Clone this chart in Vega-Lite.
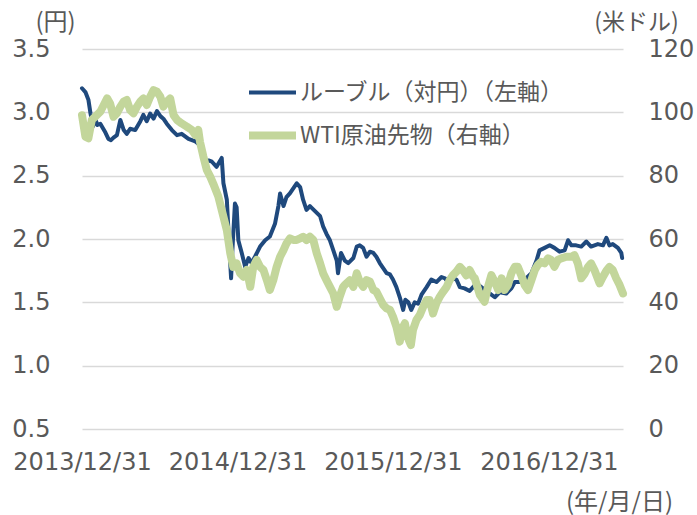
{
  "$schema": "https://vega.github.io/schema/vega-lite/v6.json",
  "width": 541,
  "height": 380,
  "autosize": {"type": "none"},
  "padding": {"left": 82, "top": 49, "right": 74, "bottom": 86},
  "background": "white",
  "config": {
    "view": {"stroke": null},
    "font": "DejaVu Sans",
    "legend": {
      "orient": "none",
      "legendX": 163,
      "legendY": 18,
      "labelFont": "Noto Sans CJK JP",
      "labelFontSize": 23,
      "labelColor": "#595959",
      "labelLimit": 0,
      "symbolType": "stroke",
      "symbolSize": 2209,
      "labelOffset": 0,
      "rowPadding": 3,
      "padding": 0
    },
    "axisX": {
      "grid": false, "domain": false, "ticks": false, "tickSize": 0,
      "labelPadding": 21, "labelFontSize": 24, "labelColor": "#595959", "labelFont": "DejaVu Sans",
      "labelOverlap": false, "labelFlush": false, "labelBound": false,
      "titleFont": "Noto Sans CJK JP", "titleFontSize": 24, "titleFontWeight": "normal",
      "titleColor": "#595959", "titleX": 537, "titleY": 73, "titleAlign": "center", "titleBaseline": "middle"
    }
  },
  "datasets": {
    "ruble": [
      {"date": "2013-12-31", "rub_jpy": 3.19},
      {"date": "2014-01-08", "rub_jpy": 3.16},
      {"date": "2014-01-15", "rub_jpy": 3.10},
      {"date": "2014-01-20", "rub_jpy": 2.99},
      {"date": "2014-01-26", "rub_jpy": 2.89},
      {"date": "2014-01-31", "rub_jpy": 2.95},
      {"date": "2014-02-05", "rub_jpy": 2.90},
      {"date": "2014-02-12", "rub_jpy": 2.91},
      {"date": "2014-02-24", "rub_jpy": 2.84},
      {"date": "2014-03-03", "rub_jpy": 2.79},
      {"date": "2014-03-09", "rub_jpy": 2.78},
      {"date": "2014-03-15", "rub_jpy": 2.80},
      {"date": "2014-03-23", "rub_jpy": 2.82},
      {"date": "2014-03-31", "rub_jpy": 2.94},
      {"date": "2014-04-08", "rub_jpy": 2.86},
      {"date": "2014-04-15", "rub_jpy": 2.83},
      {"date": "2014-04-23", "rub_jpy": 2.87},
      {"date": "2014-05-05", "rub_jpy": 2.86},
      {"date": "2014-05-17", "rub_jpy": 2.93},
      {"date": "2014-05-24", "rub_jpy": 2.98},
      {"date": "2014-06-01", "rub_jpy": 2.93},
      {"date": "2014-06-09", "rub_jpy": 2.99},
      {"date": "2014-06-17", "rub_jpy": 2.95},
      {"date": "2014-06-25", "rub_jpy": 3.01},
      {"date": "2014-07-03", "rub_jpy": 2.97},
      {"date": "2014-07-10", "rub_jpy": 2.95},
      {"date": "2014-07-18", "rub_jpy": 2.91},
      {"date": "2014-07-30", "rub_jpy": 2.86},
      {"date": "2014-08-11", "rub_jpy": 2.82},
      {"date": "2014-08-22", "rub_jpy": 2.83},
      {"date": "2014-09-07", "rub_jpy": 2.79},
      {"date": "2014-09-23", "rub_jpy": 2.77},
      {"date": "2014-10-08", "rub_jpy": 2.73},
      {"date": "2014-10-16", "rub_jpy": 2.62},
      {"date": "2014-10-24", "rub_jpy": 2.62},
      {"date": "2014-11-01", "rub_jpy": 2.61},
      {"date": "2014-11-12", "rub_jpy": 2.57},
      {"date": "2014-11-24", "rub_jpy": 2.64},
      {"date": "2014-11-28", "rub_jpy": 2.44},
      {"date": "2014-12-06", "rub_jpy": 2.31},
      {"date": "2014-12-11", "rub_jpy": 1.99},
      {"date": "2014-12-16", "rub_jpy": 1.69},
      {"date": "2014-12-19", "rub_jpy": 1.91},
      {"date": "2014-12-25", "rub_jpy": 2.28},
      {"date": "2014-12-29", "rub_jpy": 2.25},
      {"date": "2015-01-02", "rub_jpy": 1.99},
      {"date": "2015-01-10", "rub_jpy": 1.89},
      {"date": "2015-01-18", "rub_jpy": 1.78},
      {"date": "2015-01-26", "rub_jpy": 1.85},
      {"date": "2015-02-02", "rub_jpy": 1.81},
      {"date": "2015-02-10", "rub_jpy": 1.86},
      {"date": "2015-02-22", "rub_jpy": 1.94},
      {"date": "2015-03-06", "rub_jpy": 1.99},
      {"date": "2015-03-17", "rub_jpy": 2.02},
      {"date": "2015-03-29", "rub_jpy": 2.12},
      {"date": "2015-04-06", "rub_jpy": 2.26},
      {"date": "2015-04-10", "rub_jpy": 2.36},
      {"date": "2015-04-18", "rub_jpy": 2.26},
      {"date": "2015-04-25", "rub_jpy": 2.33},
      {"date": "2015-05-03", "rub_jpy": 2.36},
      {"date": "2015-05-11", "rub_jpy": 2.40},
      {"date": "2015-05-19", "rub_jpy": 2.44},
      {"date": "2015-05-27", "rub_jpy": 2.41},
      {"date": "2015-06-03", "rub_jpy": 2.31},
      {"date": "2015-06-11", "rub_jpy": 2.23},
      {"date": "2015-06-19", "rub_jpy": 2.26},
      {"date": "2015-07-01", "rub_jpy": 2.22},
      {"date": "2015-07-13", "rub_jpy": 2.18},
      {"date": "2015-07-20", "rub_jpy": 2.10},
      {"date": "2015-07-28", "rub_jpy": 2.04},
      {"date": "2015-08-05", "rub_jpy": 1.99},
      {"date": "2015-08-13", "rub_jpy": 1.91},
      {"date": "2015-08-21", "rub_jpy": 1.83},
      {"date": "2015-08-24", "rub_jpy": 1.73},
      {"date": "2015-08-31", "rub_jpy": 1.89},
      {"date": "2015-09-09", "rub_jpy": 1.83},
      {"date": "2015-09-17", "rub_jpy": 1.81},
      {"date": "2015-09-29", "rub_jpy": 1.85},
      {"date": "2015-10-07", "rub_jpy": 1.94},
      {"date": "2015-10-14", "rub_jpy": 1.95},
      {"date": "2015-10-22", "rub_jpy": 1.93},
      {"date": "2015-10-30", "rub_jpy": 1.86},
      {"date": "2015-11-07", "rub_jpy": 1.90},
      {"date": "2015-11-15", "rub_jpy": 1.89},
      {"date": "2015-11-22", "rub_jpy": 1.86},
      {"date": "2015-11-30", "rub_jpy": 1.81},
      {"date": "2015-12-08", "rub_jpy": 1.77},
      {"date": "2015-12-16", "rub_jpy": 1.73},
      {"date": "2015-12-24", "rub_jpy": 1.72},
      {"date": "2015-12-31", "rub_jpy": 1.68},
      {"date": "2016-01-08", "rub_jpy": 1.62},
      {"date": "2016-01-16", "rub_jpy": 1.54},
      {"date": "2016-01-24", "rub_jpy": 1.44},
      {"date": "2016-01-29", "rub_jpy": 1.52},
      {"date": "2016-02-05", "rub_jpy": 1.50},
      {"date": "2016-02-12", "rub_jpy": 1.44},
      {"date": "2016-02-20", "rub_jpy": 1.50},
      {"date": "2016-02-28", "rub_jpy": 1.49},
      {"date": "2016-03-07", "rub_jpy": 1.56},
      {"date": "2016-03-19", "rub_jpy": 1.62},
      {"date": "2016-03-30", "rub_jpy": 1.68},
      {"date": "2016-04-11", "rub_jpy": 1.66},
      {"date": "2016-04-23", "rub_jpy": 1.70},
      {"date": "2016-05-01", "rub_jpy": 1.69},
      {"date": "2016-05-08", "rub_jpy": 1.66},
      {"date": "2016-05-20", "rub_jpy": 1.69},
      {"date": "2016-05-28", "rub_jpy": 1.68},
      {"date": "2016-06-05", "rub_jpy": 1.62},
      {"date": "2016-06-16", "rub_jpy": 1.61},
      {"date": "2016-06-28", "rub_jpy": 1.59},
      {"date": "2016-07-14", "rub_jpy": 1.65},
      {"date": "2016-07-29", "rub_jpy": 1.61},
      {"date": "2016-08-14", "rub_jpy": 1.57},
      {"date": "2016-08-26", "rub_jpy": 1.54},
      {"date": "2016-09-07", "rub_jpy": 1.58},
      {"date": "2016-09-22", "rub_jpy": 1.57},
      {"date": "2016-10-04", "rub_jpy": 1.61},
      {"date": "2016-10-12", "rub_jpy": 1.66},
      {"date": "2016-10-23", "rub_jpy": 1.66},
      {"date": "2016-11-08", "rub_jpy": 1.69},
      {"date": "2016-11-20", "rub_jpy": 1.73},
      {"date": "2016-12-02", "rub_jpy": 1.83},
      {"date": "2016-12-09", "rub_jpy": 1.91},
      {"date": "2016-12-21", "rub_jpy": 1.93},
      {"date": "2017-01-02", "rub_jpy": 1.95},
      {"date": "2017-01-13", "rub_jpy": 1.93},
      {"date": "2017-01-25", "rub_jpy": 1.90},
      {"date": "2017-02-06", "rub_jpy": 1.91},
      {"date": "2017-02-14", "rub_jpy": 1.99},
      {"date": "2017-02-22", "rub_jpy": 1.95},
      {"date": "2017-03-05", "rub_jpy": 1.95},
      {"date": "2017-03-17", "rub_jpy": 1.94},
      {"date": "2017-03-29", "rub_jpy": 1.98},
      {"date": "2017-04-09", "rub_jpy": 1.94},
      {"date": "2017-04-25", "rub_jpy": 1.96},
      {"date": "2017-05-07", "rub_jpy": 1.95},
      {"date": "2017-05-15", "rub_jpy": 2.01},
      {"date": "2017-05-22", "rub_jpy": 1.95},
      {"date": "2017-05-30", "rub_jpy": 1.96},
      {"date": "2017-06-11", "rub_jpy": 1.93},
      {"date": "2017-06-19", "rub_jpy": 1.89},
      {"date": "2017-06-21", "rub_jpy": 1.85}
    ],
    "wti": [
      {"date": "2013-12-31", "wti": 99.1},
      {"date": "2014-01-08", "wti": 92.3},
      {"date": "2014-01-15", "wti": 91.8},
      {"date": "2014-01-23", "wti": 97.6},
      {"date": "2014-01-31", "wti": 98.6},
      {"date": "2014-02-12", "wti": 100.2},
      {"date": "2014-02-20", "wti": 102.3},
      {"date": "2014-02-28", "wti": 104.4},
      {"date": "2014-03-07", "wti": 102.8},
      {"date": "2014-03-15", "wti": 98.6},
      {"date": "2014-03-23", "wti": 99.7},
      {"date": "2014-03-31", "wti": 101.8},
      {"date": "2014-04-08", "wti": 103.4},
      {"date": "2014-04-15", "wti": 103.9},
      {"date": "2014-04-23", "wti": 100.7},
      {"date": "2014-05-01", "wti": 99.7},
      {"date": "2014-05-09", "wti": 101.8},
      {"date": "2014-05-17", "wti": 103.4},
      {"date": "2014-05-24", "wti": 104.4},
      {"date": "2014-06-01", "wti": 102.3},
      {"date": "2014-06-09", "wti": 104.9},
      {"date": "2014-06-17", "wti": 107.0},
      {"date": "2014-06-25", "wti": 106.5},
      {"date": "2014-07-03", "wti": 104.9},
      {"date": "2014-07-10", "wti": 101.8},
      {"date": "2014-07-18", "wti": 103.4},
      {"date": "2014-07-26", "wti": 104.4},
      {"date": "2014-08-03", "wti": 99.1},
      {"date": "2014-08-11", "wti": 97.6},
      {"date": "2014-08-22", "wti": 96.5},
      {"date": "2014-09-03", "wti": 95.5},
      {"date": "2014-09-15", "wti": 94.4},
      {"date": "2014-09-23", "wti": 92.8},
      {"date": "2014-09-30", "wti": 94.4},
      {"date": "2014-10-04", "wti": 90.7},
      {"date": "2014-10-12", "wti": 86.0},
      {"date": "2014-10-20", "wti": 81.8},
      {"date": "2014-10-28", "wti": 79.7},
      {"date": "2014-11-04", "wti": 77.5},
      {"date": "2014-11-16", "wti": 73.4},
      {"date": "2014-11-28", "wti": 67.0},
      {"date": "2014-12-06", "wti": 62.8},
      {"date": "2014-12-14", "wti": 55.5},
      {"date": "2014-12-21", "wti": 51.2},
      {"date": "2014-12-29", "wti": 52.3},
      {"date": "2015-01-06", "wti": 49.2},
      {"date": "2015-01-14", "wti": 48.1},
      {"date": "2015-01-22", "wti": 50.2},
      {"date": "2015-01-30", "wti": 44.9},
      {"date": "2015-02-06", "wti": 51.2},
      {"date": "2015-02-14", "wti": 53.4},
      {"date": "2015-02-22", "wti": 51.2},
      {"date": "2015-03-02", "wti": 50.2},
      {"date": "2015-03-10", "wti": 47.0},
      {"date": "2015-03-17", "wti": 43.9},
      {"date": "2015-03-25", "wti": 47.0},
      {"date": "2015-04-02", "wti": 51.2},
      {"date": "2015-04-10", "wti": 54.4},
      {"date": "2015-04-18", "wti": 56.5},
      {"date": "2015-04-25", "wti": 58.6},
      {"date": "2015-05-03", "wti": 60.2},
      {"date": "2015-05-11", "wti": 59.7},
      {"date": "2015-05-19", "wti": 59.7},
      {"date": "2015-05-27", "wti": 60.2},
      {"date": "2015-06-03", "wti": 60.7},
      {"date": "2015-06-11", "wti": 59.7},
      {"date": "2015-06-19", "wti": 60.7},
      {"date": "2015-06-27", "wti": 59.7},
      {"date": "2015-07-05", "wti": 55.5},
      {"date": "2015-07-13", "wti": 52.3},
      {"date": "2015-07-20", "wti": 49.2},
      {"date": "2015-07-28", "wti": 47.0},
      {"date": "2015-08-05", "wti": 44.9},
      {"date": "2015-08-13", "wti": 42.8},
      {"date": "2015-08-21", "wti": 38.6},
      {"date": "2015-08-28", "wti": 41.8},
      {"date": "2015-09-05", "wti": 44.9},
      {"date": "2015-09-09", "wti": 45.5},
      {"date": "2015-09-21", "wti": 47.0},
      {"date": "2015-09-29", "wti": 44.9},
      {"date": "2015-10-07", "wti": 49.2},
      {"date": "2015-10-14", "wti": 46.5},
      {"date": "2015-10-22", "wti": 44.9},
      {"date": "2015-10-30", "wti": 47.0},
      {"date": "2015-11-07", "wti": 46.5},
      {"date": "2015-11-15", "wti": 43.9},
      {"date": "2015-11-22", "wti": 43.4},
      {"date": "2015-11-30", "wti": 41.3},
      {"date": "2015-12-08", "wti": 39.2},
      {"date": "2015-12-16", "wti": 38.1},
      {"date": "2015-12-24", "wti": 37.6},
      {"date": "2015-12-31", "wti": 35.5},
      {"date": "2016-01-08", "wti": 32.3},
      {"date": "2016-01-16", "wti": 27.6},
      {"date": "2016-01-20", "wti": 31.3},
      {"date": "2016-01-28", "wti": 33.4},
      {"date": "2016-02-03", "wti": 29.1},
      {"date": "2016-02-11", "wti": 26.5},
      {"date": "2016-02-16", "wti": 31.3},
      {"date": "2016-02-24", "wti": 34.4},
      {"date": "2016-03-03", "wti": 36.0},
      {"date": "2016-03-11", "wti": 38.6},
      {"date": "2016-03-19", "wti": 40.7},
      {"date": "2016-03-26", "wti": 40.7},
      {"date": "2016-04-03", "wti": 36.5},
      {"date": "2016-04-11", "wti": 39.7},
      {"date": "2016-04-19", "wti": 41.8},
      {"date": "2016-04-27", "wti": 43.4},
      {"date": "2016-05-05", "wti": 44.9},
      {"date": "2016-05-12", "wti": 47.0},
      {"date": "2016-05-20", "wti": 48.6},
      {"date": "2016-05-28", "wti": 49.7},
      {"date": "2016-06-05", "wti": 51.2},
      {"date": "2016-06-12", "wti": 50.2},
      {"date": "2016-06-20", "wti": 48.5},
      {"date": "2016-06-28", "wti": 50.2},
      {"date": "2016-07-06", "wti": 48.1},
      {"date": "2016-07-10", "wti": 47.6},
      {"date": "2016-07-22", "wti": 42.3},
      {"date": "2016-08-02", "wti": 40.2},
      {"date": "2016-08-10", "wti": 44.9},
      {"date": "2016-08-18", "wti": 48.6},
      {"date": "2016-08-26", "wti": 46.5},
      {"date": "2016-09-03", "wti": 43.9},
      {"date": "2016-09-11", "wti": 47.6},
      {"date": "2016-09-18", "wti": 43.9},
      {"date": "2016-09-26", "wti": 45.5},
      {"date": "2016-10-04", "wti": 49.2},
      {"date": "2016-10-12", "wti": 51.2},
      {"date": "2016-10-19", "wti": 51.2},
      {"date": "2016-10-27", "wti": 48.6},
      {"date": "2016-11-04", "wti": 45.5},
      {"date": "2016-11-12", "wti": 43.9},
      {"date": "2016-11-20", "wti": 47.0},
      {"date": "2016-11-28", "wti": 50.2},
      {"date": "2016-12-05", "wti": 51.8},
      {"date": "2016-12-13", "wti": 52.8},
      {"date": "2016-12-21", "wti": 52.3},
      {"date": "2016-12-29", "wti": 53.9},
      {"date": "2017-01-05", "wti": 53.4},
      {"date": "2017-01-13", "wti": 51.2},
      {"date": "2017-01-21", "wti": 53.4},
      {"date": "2017-01-29", "wti": 53.9},
      {"date": "2017-02-10", "wti": 54.4},
      {"date": "2017-02-22", "wti": 54.4},
      {"date": "2017-03-01", "wti": 54.9},
      {"date": "2017-03-09", "wti": 52.3},
      {"date": "2017-03-17", "wti": 47.6},
      {"date": "2017-03-25", "wti": 49.0},
      {"date": "2017-04-02", "wti": 51.2},
      {"date": "2017-04-09", "wti": 52.3},
      {"date": "2017-04-17", "wti": 50.2},
      {"date": "2017-04-29", "wti": 46.0},
      {"date": "2017-05-07", "wti": 48.1},
      {"date": "2017-05-15", "wti": 50.0},
      {"date": "2017-05-22", "wti": 51.2},
      {"date": "2017-05-30", "wti": 50.2},
      {"date": "2017-06-07", "wti": 47.6},
      {"date": "2017-06-15", "wti": 45.5},
      {"date": "2017-06-23", "wti": 42.8}
    ]
  },
  "encoding": {
    "x": {
      "field": "date", "type": "temporal",
      "scale": {"type": "utc", "domain": [{"year": 2013, "month": 12, "date": 31, "utc": true}, {"year": 2017, "month": 6, "date": 23, "utc": true}]},
      "axis": {
        "values": [
          {"year": 2013, "month": 12, "date": 31, "utc": true},
          {"year": 2014, "month": 12, "date": 31, "utc": true},
          {"year": 2015, "month": 12, "date": 31, "utc": true},
          {"year": 2016, "month": 12, "date": 31, "utc": true}
        ],
        "format": "%Y/%m/%d",
        "title": "(年/月/日)"
      }
    }
  },
  "layer": [
    {
      "data": {"name": "ruble"},
      "mark": {"type": "line", "strokeJoin": "round", "strokeCap": "round"},
      "encoding": {
        "y": {
          "field": "rub_jpy", "type": "quantitative",
          "scale": {"domain": [0.5, 3.5], "nice": false, "zero": false},
          "axis": {
            "orient": "left",
            "values": [0.5, 1, 1.5, 2, 2.5, 3, 3.5], "format": ".1f",
            "grid": true, "gridColor": "#d9d9d9", "gridWidth": 1.5,
            "domain": false, "ticks": false, "tickSize": 0,
            "labelPadding": 32, "labelFontSize": 24, "labelColor": "#595959", "labelFont": "DejaVu Sans",
            "title": "(円)", "titleAngle": 0, "titleX": -27, "titleY": -27, "titleAlign": "center", "titleBaseline": "middle",
            "titleFont": "Noto Sans CJK JP", "titleFontSize": 24, "titleFontWeight": "normal", "titleColor": "#595959"
          }
        },
        "color": {
          "datum": "ルーブル（対円）（左軸）", "type": "nominal",
          "scale": {"domain": ["ルーブル（対円）（左軸）", "WTI原油先物（右軸）"], "range": ["#1f497d", "#c3d69b"]},
          "legend": {"title": null}
        },
        "strokeWidth": {
          "datum": "ルーブル（対円）（左軸）", "type": "nominal",
          "scale": {"domain": ["ルーブル（対円）（左軸）", "WTI原油先物（右軸）"], "range": [4, 8]},
          "legend": {"title": null}
        }
      }
    },
    {
      "data": {"name": "wti"},
      "mark": {"type": "line", "strokeJoin": "round", "strokeCap": "round"},
      "encoding": {
        "y": {
          "field": "wti", "type": "quantitative",
          "scale": {"domain": [0, 120], "nice": false},
          "axis": {
            "orient": "right",
            "values": [0, 20, 40, 60, 80, 100, 120],
            "grid": false, "domain": false, "ticks": false, "tickSize": 0,
            "labelPadding": 25, "labelFontSize": 24, "labelColor": "#595959", "labelFont": "DejaVu Sans",
            "title": "(米ドル)", "titleAngle": 0, "titleX": 13, "titleY": -27, "titleAlign": "center", "titleBaseline": "middle",
            "titleFont": "Noto Sans CJK JP", "titleFontSize": 23, "titleFontWeight": "normal", "titleColor": "#595959"
          }
        },
        "color": {"datum": "WTI原油先物（右軸）", "type": "nominal"},
        "strokeWidth": {"datum": "WTI原油先物（右軸）", "type": "nominal"}
      }
    }
  ],
  "resolve": {"scale": {"y": "independent"}}
}
